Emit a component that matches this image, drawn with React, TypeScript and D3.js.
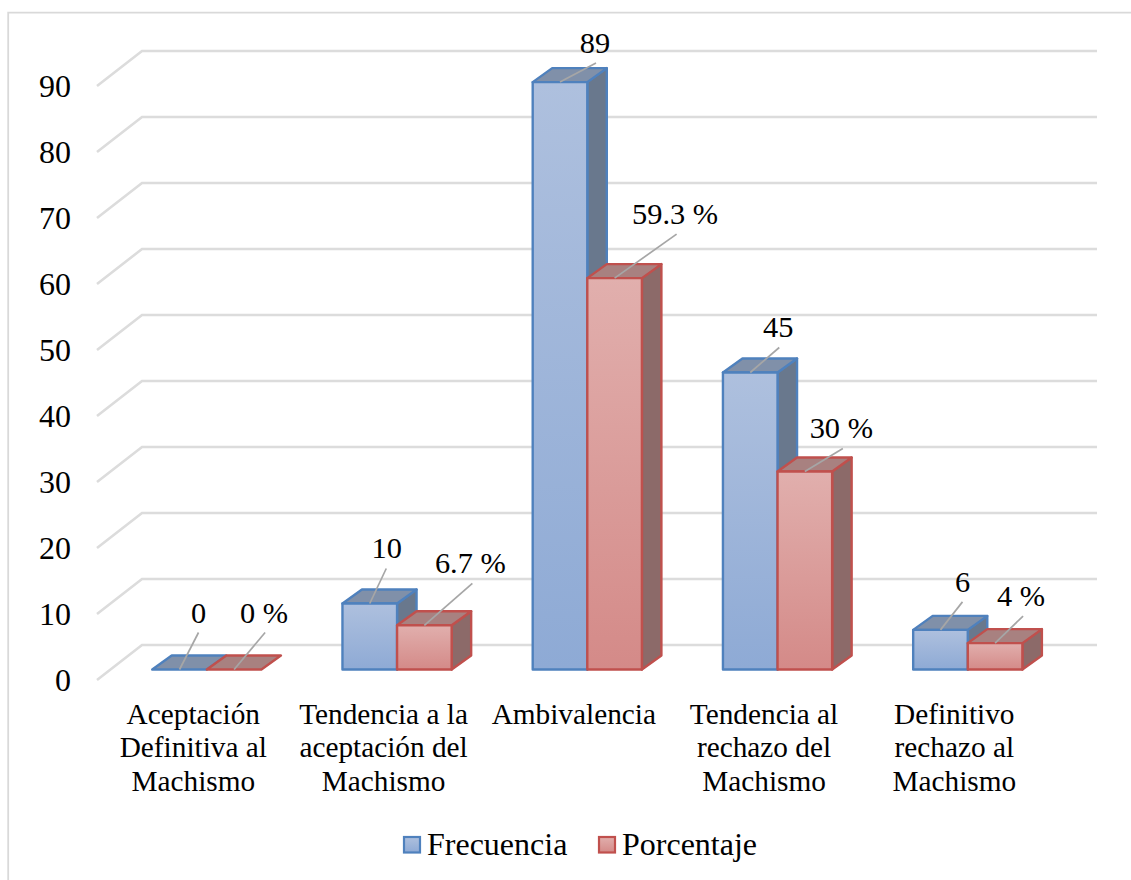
import React from "react";
import * as d3 from "d3";

const categories = [
  ["Aceptación", "Definitiva al", "Machismo"],
  ["Tendencia a la", "aceptación del", "Machismo"],
  ["Ambivalencia"],
  ["Tendencia al", "rechazo del", "Machismo"],
  ["Definitivo", "rechazo al", "Machismo"],
];
const frecuencia = [0, 10, 89, 45, 6];
const porcentaje = [0, 6.7, 59.3, 30, 4];
const yTicks = [0, 10, 20, 30, 40, 50, 60, 70, 80, 90];

const FONT = "'Liberation Serif', 'Times New Roman', serif";

// layout of the 3D box
const W = 1131, H = 880;
const depthDx = 19.5, depthDy = 14;
const wallDx = 45, wallDy = 35;

// leader ends & label anchors relative to bar-front top centre
const freqLeader = [[19, -37, 19, -47], [16.5, -35, 17, -46], [36, -19, 35, -28.7], [29, -25, 28, -36], [22, -28, 22, -38]];
const pctLeader = [[31, -37, 30, -47], [48, -42, 46, -52], [62, -44, 60.5, -54], [38, -23, 36.5, -34], [28, -27, 26, -37]];

const x0 = d3.scaleBand<number>().domain(d3.range(categories.length)).range([111.7, 1062.9]);
const y = d3.scaleLinear().domain([0, 90]).range([669.5, 75.5]);
const wallFront = d3.scaleLinear().domain([0, 90]).range([680, 86]);
const barW = 54.6;

function Bar({ x, v, kind, leader, label }: any) {
  const y0 = y(0), yt = y(v);
  const c = kind === "f"
    ? { stroke: "#4f81bd", top: "#8090a9", side: "#69788d", grad: "url(#gf)" }
    : { stroke: "#c0504d", top: "#a88180", side: "#8c6a69", grad: "url(#gp)" };
  const x1 = x + barW;
  const p = (pts: number[][]) => "M" + pts.map((q) => q.join(",")).join("L") + "Z";
  const cx = x + barW / 2;
  return (
    <g>
      {v > 0 && (
        <path d={p([[x1, yt], [x1 + depthDx, yt - depthDy], [x1 + depthDx, y0 - depthDy], [x1, y0]])} fill={c.side} stroke={c.stroke} strokeWidth={2.4} strokeLinejoin="round" />
      )}
      <path d={p([[x, yt], [x1, yt], [x1 + depthDx, yt - depthDy], [x + depthDx, yt - depthDy]])} fill={c.top} stroke={c.stroke} strokeWidth={2.4} strokeLinejoin="round" />
      {v > 0 && <rect x={x} y={yt} width={barW} height={y0 - yt} fill={c.grad} stroke={c.stroke} strokeWidth={2.4} strokeLinejoin="round" />}
      <line x1={cx} y1={yt} x2={cx + leader[0]} y2={yt + leader[1]} stroke="#a6a6a6" strokeWidth={1.7} />
      <text x={cx + leader[2]} y={yt + leader[3]} textAnchor="middle" fontFamily={FONT} fontSize={30.4} fill="#000">{label}</text>
    </g>
  );
}

export default function App() {
  const bars = categories.map((_, i) => ({ i, gx: x0(i)! + x0.bandwidth() / 2 }));
  return (
    <svg width={W} height={H} viewBox={`0 0 ${W} ${H}`} style={{ position: "absolute", left: 0, top: 0, background: "#fff" }}>
      <defs>
        <linearGradient id="gf" x1="0" y1="0" x2="0" y2="1">
          <stop offset="0" stopColor="#aec0de" />
          <stop offset="1" stopColor="#8eaad5" />
        </linearGradient>
        <linearGradient id="gp" x1="0" y1="0" x2="0" y2="1">
          <stop offset="0" stopColor="#e1afad" />
          <stop offset="1" stopColor="#d48a88" />
        </linearGradient>
      </defs>
      <path d={`M8.2,${H}L8.2,12.7L${W},12.7`} fill="none" stroke="#d9d9d9" strokeWidth={1.8} />
      {yTicks.map((t) => {
        const wy = wallFront(t);
        return (
          <g key={t}>
            <path d={`M${97},${wy}L${97 + wallDx},${wy - wallDy}L1097,${wy - wallDy}`} fill="none" stroke="#dcdcdc" strokeWidth={2.6} />
            <text x={71} y={wy + 11} textAnchor="end" fontFamily={FONT} fontSize={32} fill="#000">{t}</text>
          </g>
        );
      })}
      {bars.map(({ i, gx }) => (
        <g key={i}>
          <Bar x={gx - barW} v={frecuencia[i]} kind="f" leader={freqLeader[i]} label={String(frecuencia[i])} />
          <Bar x={gx} v={porcentaje[i]} kind="p" leader={pctLeader[i]} label={`${porcentaje[i]} %`} />
          {categories[i].map((ln, k) => (
            <text key={k} x={gx - 13.5} y={723.5 + k * 33.6} textAnchor="middle" fontFamily={FONT} fontSize={29.3} fill="#000">{ln}</text>
          ))}
        </g>
      ))}
      <g>
        <rect x={404} y={837} width={16} height={15.5} fill="url(#gf)" stroke="#4f81bd" strokeWidth={2.2} />
        <text x={427} y={855} fontFamily={FONT} fontSize={32} fill="#000">Frecuencia</text>
        <rect x={599} y={837} width={16} height={15.5} fill="url(#gp)" stroke="#c0504d" strokeWidth={2.2} />
        <text x={622} y={855} fontFamily={FONT} fontSize={32} fill="#000">Porcentaje</text>
      </g>
    </svg>
  );
}
